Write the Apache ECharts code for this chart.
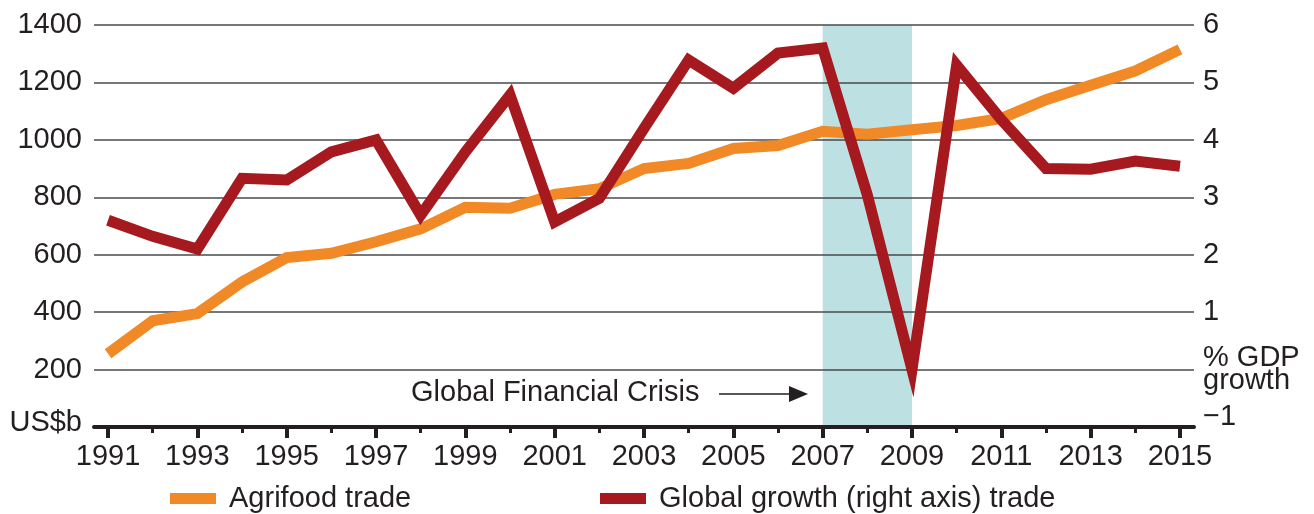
<!DOCTYPE html>
<html>
<head>
<meta charset="utf-8">
<script src="https://cdn.jsdelivr.net/npm/echarts@6/dist/echarts.min.js"></script>
<style>
  html, body { margin: 0; padding: 0; background: #fff; }
  #chart { width: 1314px; height: 514px; }
</style>
</head>
<body>
<div id="chart"></div>
<script>
// data
let years = [1991, 1992, 1993, 1994, 1995, 1996, 1997, 1998, 1999, 2000, 2001, 2002, 2003,
  2004, 2005, 2006, 2007, 2008, 2009, 2010, 2011, 2012, 2013, 2014, 2015]
let agrifood = [255, 370, 395, 505, 590, 605, 645, 690, 765, 762, 810, 830, 900,
  918, 970, 980, 1030, 1020, 1035, 1050, 1075, 1140, 1190, 1240, 1315]
let growth = [2.6, 2.32, 2.1, 3.33, 3.3, 3.79, 4.0, 2.69, 3.79, 4.78, 2.57, 2.98, 4.2,
  5.39, 4.9, 5.51, 5.6, 3.04, 0.0, 5.3, 4.35, 3.5, 3.49, 3.63, 3.54]
let labelYears = [1991, 1993, 1995, 1997, 1999, 2001, 2003, 2005, 2007, 2009, 2011, 2013, 2015]
let minorYears = [1992, 1994, 1996, 1998, 2000, 2002, 2004, 2006, 2008, 2010, 2012, 2014]
let crisis = [2007, 2009]

let ink = '#231f20'
let font = 'Liberation Sans, Arial, sans-serif'
let fs = 29

let pairs = (vals) => years.map((y, i) => [y, vals[i]])

// shaded band for the crisis years, drawn through the axes
let shadeItem = (params, api) => {
  let p0 = api.coord([api.value(0), 1400])
  let p1 = api.coord([api.value(1), 0])
  return {
    type: 'rect',
    shape: { x: p0[0], y: p0[1], width: p1[0] - p0[0], height: p1[1] - p0[1] },
    style: { fill: '#bde0e2' }
  }
}

let createChart = (id) => {
  let chart = echarts.init(document.getElementById(id), null, { renderer: 'canvas' })
  let xMin = 1990.686
  let xMax = 2015.314
  let final = {
    animation: false,
    grid: [
      { left: 94, right: 120, top: 25, bottom: 87 },
      { left: 94, right: 120, top: 25, bottom: 87 }
    ],
    xAxis: [
      {
        type: 'value', gridIndex: 0, min: xMin, max: xMax, zlevel: 1,
        splitLine: { show: false },
        axisLine: { show: true, onZero: false, lineStyle: { color: ink, width: 4 } },
        axisTick: { show: true, customValues: labelYears, length: 11, lineStyle: { color: ink, width: 4 } },
        axisLabel: { customValues: labelYears, margin: 15, color: ink, fontSize: fs, fontFamily: font,
          formatter: (v) => String(v) }
      },
      {
        type: 'value', gridIndex: 1, min: xMin, max: xMax, zlevel: 1,
        splitLine: { show: false },
        axisLine: { show: false },
        axisTick: { show: true, customValues: minorYears, length: 6, lineStyle: { color: ink, width: 3 } },
        axisLabel: { show: false }
      }
    ],
    yAxis: [
      {
        type: 'value', gridIndex: 0, min: 0, max: 1400, interval: 200, zlevel: 1,
        axisLine: { show: false }, axisTick: { show: false },
        splitLine: { show: true, lineStyle: { color: '#4a4a4a', width: 1.5 } },
        axisLabel: {
          margin: 12, color: ink, fontSize: fs, fontFamily: font,
          formatter: (v) => v === 0 ? '{u|US$b}' : String(v),
          rich: { u: { fontSize: fs, fontFamily: font, color: ink, padding: [0, 0, 8, 0] } }
        }
      },
      {
        type: 'value', gridIndex: 0, min: -1, max: 6, interval: 1, position: 'right', zlevel: 1,
        axisLine: { show: false }, axisTick: { show: false }, splitLine: { show: false },
        axisLabel: {
          margin: 9, color: ink, fontSize: fs, fontFamily: font,
          formatter: (v) => {
            if (v === 0) return '{g|% GDP}\n{g|growth}'
            if (v === -1) return '{m|−1}'
            return String(v)
          },
          rich: {
            g: { fontSize: fs, fontFamily: font, color: ink, lineHeight: 23 },
            m: { fontSize: fs, fontFamily: font, color: ink, padding: [0, 0, 20, 0] }
          }
        }
      },
      { type: 'value', gridIndex: 1, min: 0, max: 1400, show: false }
    ],
    legend: [
      {
        data: ['Agrifood trade'], left: 165, top: 479, icon: 'rect', zlevel: 2,
        itemWidth: 46, itemHeight: 11,
        textStyle: { color: ink, fontSize: fs, fontFamily: font, padding: [0, 0, 0, 8] }
      },
      {
        data: ['Global growth (right axis) trade'], left: 595, top: 479, icon: 'rect', zlevel: 2,
        itemWidth: 46, itemHeight: 11,
        textStyle: { color: ink, fontSize: fs, fontFamily: font, padding: [0, 0, 0, 8] }
      }
    ],
    series: [
      {
        name: 'shade', type: 'custom', xAxisIndex: 0, yAxisIndex: 0, zlevel: 0,
        silent: true, clip: false,
        renderItem: shadeItem,
        encode: { x: [0, 1] },
        data: [crisis]
      },
      {
        name: 'Agrifood trade', type: 'line', xAxisIndex: 0, yAxisIndex: 0, zlevel: 2, z: 3,
        data: pairs(agrifood), symbol: 'none',
        itemStyle: { color: '#f08926' },
        lineStyle: { color: '#f08926', width: 11, join: 'miter' }
      },
      {
        name: 'Global growth (right axis) trade', type: 'line', xAxisIndex: 0, yAxisIndex: 1, zlevel: 2, z: 4,
        data: pairs(growth), symbol: 'none',
        itemStyle: { color: '#a6191e' },
        lineStyle: { color: '#a6191e', width: 11, join: 'miter' }
      }
    ],
    graphic: [
      {
        type: 'text', left: 411, top: 378, silent: true, zlevel: 2,
        style: { text: 'Global Financial Crisis', fill: ink, fontSize: fs, fontFamily: font }
      },
      {
        type: 'line', silent: true, zlevel: 2,
        shape: { x1: 719, y1: 394, x2: 792, y2: 394 },
        style: { stroke: ink, lineWidth: 1.5 }
      },
      {
        type: 'polygon', silent: true, zlevel: 2,
        shape: { points: [[789, 386], [808, 394], [789, 402]] },
        style: { fill: ink }
      }
    ]
  }
  chart.setOption(final)
}

createChart('chart')
</script>
</body>
</html>
